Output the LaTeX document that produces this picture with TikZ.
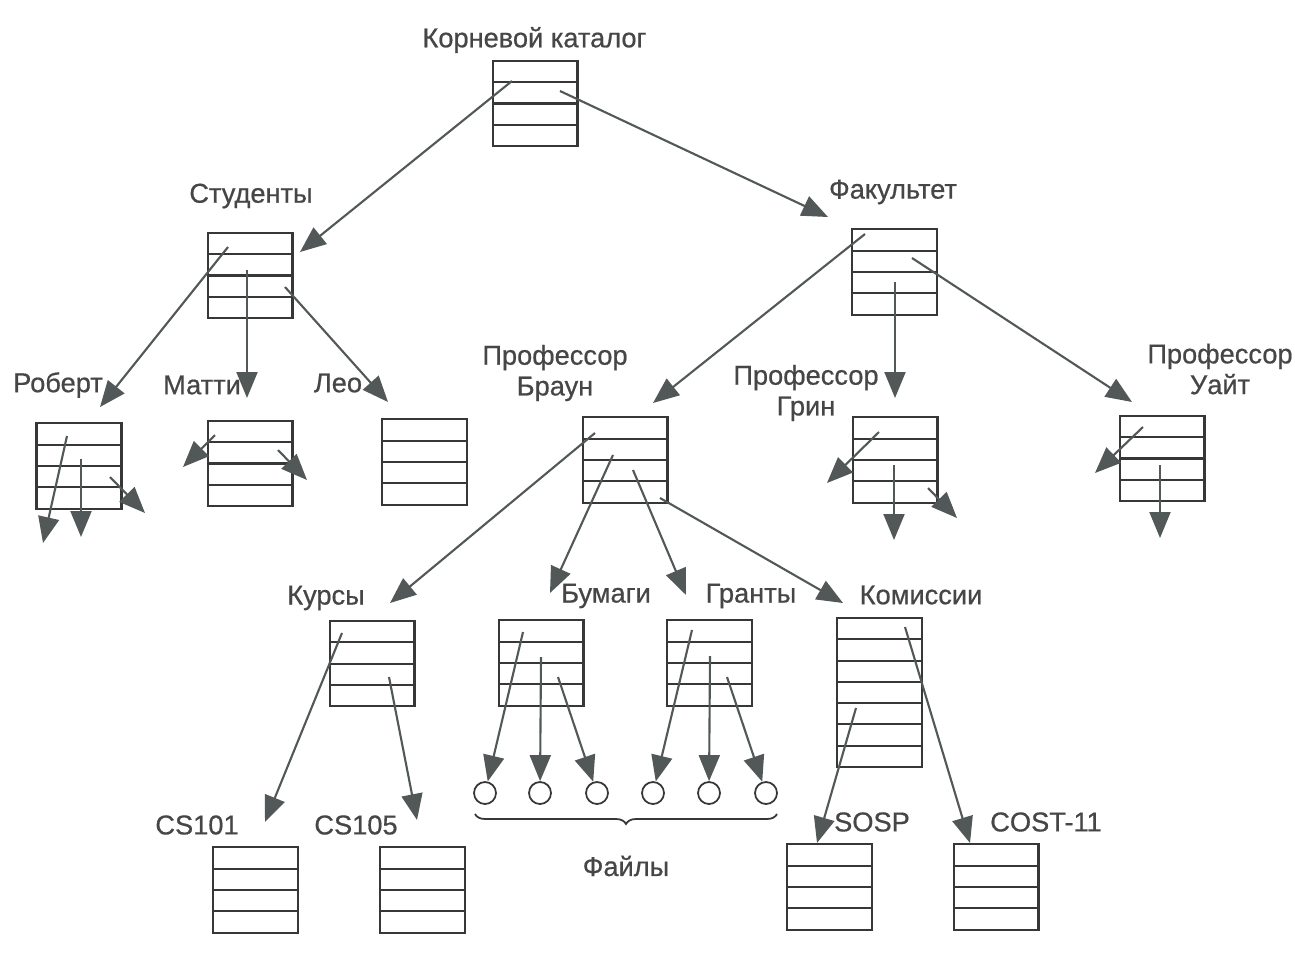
\documentclass[tikz,border=0pt]{standalone}
\usepackage{fontspec}
\setmainfont{Liberation Sans}[FakeBold=0.6]
\usetikzlibrary{arrows.meta,calc,decorations.pathreplacing}
\definecolor{boxc}{RGB}{55,55,55}
\definecolor{arrc}{RGB}{82,88,88}
\definecolor{txtc}{RGB}{70,70,70}
\tikzset{
  dbox/.style={draw=boxc, line width=1.15pt, minimum width=1.7cm, minimum height=#1*0.426cm,
    inner sep=0pt, outer sep=0pt,
    path picture={\foreach \k in {1,...,#1}{
      \draw[boxc, line width=1.15pt]
        ($(path picture bounding box.north west)!{\k/#1}!(path picture bounding box.south west)$) --
        ($(path picture bounding box.north east)!{\k/#1}!(path picture bounding box.south east)$);}}},
  dbox/.default=4,
  arr/.style={draw=arrc, line width=1.2pt, -{Triangle[length=0.52cm,width=0.42cm]}},
  lab/.style={text=txtc, font=\fontsize{15.5}{17.5}\selectfont, inner sep=0pt, align=center},
  filec/.style={circle, draw=boxc, line width=1pt, minimum size=0.44cm, inner sep=0pt},
}
\begin{document}
\begin{tikzpicture}[x=0.02cm,y=-0.02cm]
\useasboundingbox[fill=white] (0,0) rectangle (1295,954);
% boxes
\node[dbox] (root) at (535,103.5) {};
\node[dbox] (stud) at (250,275.5) {};
\node[dbox] (rob) at (79,466) {};
\node[dbox] (matti) at (250,463.5) {};
\node[dbox] (leo) at (424.5,462) {};
\node[dbox] (fac) at (894.5,272) {};
\node[dbox] (braun) at (625,460) {};
\node[dbox] (grin) at (895,460) {};
\node[dbox] (white) at (1162,458.5) {};
\node[dbox] (kursy) at (372,663.5) {};
\node[dbox] (bumagi) at (541,663) {};
\node[dbox] (granty) at (709.5,663) {};
\node[dbox=7] (kom) at (879.5,692.5) {};
\node[dbox] (cs101) at (255.5,890) {};
\node[dbox] (cs105) at (422.5,890) {};
\node[dbox] (sosp) at (829.5,887) {};
\node[dbox] (cost) at (996,887) {};
% files
\node[filec] (f1) at (485,793) {};
\node[filec] (f2) at (540,793) {};
\node[filec] (f3) at (597,793) {};
\node[filec] (f4) at (653,793) {};
\node[filec] (f5) at (709,793) {};
\node[filec] (f6) at (766,793) {};
% labels
\node[lab] (lroot) at (534.5,40) {Корневой каталог};
\node[lab] (lstud) at (251,196) {Студенты};
\node[lab] (lfac) at (893,192) {Факультет};
\node[lab] (lrob) at (58,385) {Роберт};
\node[lab] (lmatti) at (202,385) {Матти};
\node[lab] (lleo) at (338,383) {Лео};
\node[lab] (lbraun) at (555,373) {Профессор\\Браун};
\node[lab] (lgrin) at (806,393) {Профессор\\Грин};
\node[lab] (lwhite) at (1220,369) {Профессор\\Уайт};
\node[lab] (lkursy) at (326,598) {Курсы};
\node[lab] (lbum) at (606,596) {Бумаги};
\node[lab] (lgr) at (751,596) {Гранты};
\node[lab] (lkom) at (921,595) {Комиссии};
\node[lab] (lcs101) at (197,825) {CS101};
\node[lab] (lcs105) at (356,825) {CS105};
\node[lab] (lsosp) at (872,822) {SOSP};
\node[lab] (lcost) at (1046,822) {COST-11};
\node[lab] (lfiles) at (626,866) {Файлы};
% brace
\coordinate (bl) at (475,814);
\coordinate (br) at (777,814);
\draw[boxc, line width=1pt, decorate, decoration={brace, mirror, amplitude=0.2cm}] (bl) -- (br);
% start points and free ends
\coordinate (s1) at (512,81);   \coordinate (t1) at (300,252);
\coordinate (s2) at (560,91);   \coordinate (t2) at (828,217);
\coordinate (s3) at (228,247);  \coordinate (t3) at (100,407);
\coordinate (s4) at (247,270);  \coordinate (t4) at (247,398);
\coordinate (s5) at (285,287);  \coordinate (t5) at (388,402);
\coordinate (s6) at (67,436);   \coordinate (t6) at (43,543);
\coordinate (s7) at (81,459);   \coordinate (t7) at (81,537);
\coordinate (s8) at (110,477);  \coordinate (t8) at (145,513);
\coordinate (s9) at (215,435);  \coordinate (t9) at (183,467);
\coordinate (s10) at (278,450); \coordinate (t10) at (307,480);
\coordinate (s11) at (865,234); \coordinate (t11) at (653,403);
\coordinate (s12) at (895,282); \coordinate (t12) at (895,398);
\coordinate (s13) at (912,258); \coordinate (t13) at (1132,402);
\coordinate (s14) at (595,433); \coordinate (t14) at (390,603);
\coordinate (s15) at (613,455); \coordinate (t15) at (550,593);
\coordinate (s16) at (633,470); \coordinate (t16) at (686,595);
\coordinate (s17) at (660,498); \coordinate (t17) at (843,603);
\coordinate (s18) at (879,432); \coordinate (t18) at (827,483);
\coordinate (s19) at (894,465); \coordinate (t19) at (894,540);
\coordinate (s20) at (928,488); \coordinate (t20) at (957,518);
\coordinate (s21) at (1143,427);\coordinate (t21) at (1095,473);
\coordinate (s22) at (1160,465);\coordinate (t22) at (1160,538);
\coordinate (s23) at (342,633); \coordinate (t23) at (265,822);
\coordinate (s24) at (389,677); \coordinate (t24) at (417,820);
\coordinate (s25) at (523,632);
\coordinate (s26) at (541,657);
\coordinate (s27) at (558,677);
\coordinate (s28) at (692,630);
\coordinate (s29) at (710,656);
\coordinate (s30) at (727,677);
\coordinate (s31) at (856,708); \coordinate (t31) at (817,843);
\coordinate (s32) at (905,627); \coordinate (t32) at (970,843);
% connectors
\foreach \i in {1,...,24,31,32} {\draw[arr] (s\i) -- (t\i);}
\draw[arr] (s25) -- (f1);
\draw[arr] (s26) -- (f2);
\draw[arr] (s27) -- (f3);
\draw[arr] (s28) -- (f4);
\draw[arr] (s29) -- (f5);
\draw[arr] (s30) -- (f6);
\end{tikzpicture}
\end{document}
